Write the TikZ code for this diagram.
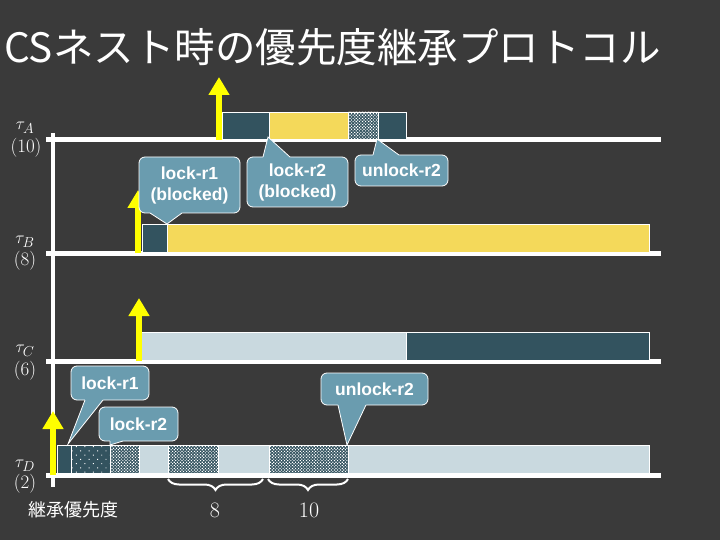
\documentclass[tikz,border=0pt]{standalone}
\usepackage{fontspec}
\newfontfamily\lib{Liberation Sans}
\newfontfamily\jp{Noto Sans CJK JP}
\usetikzlibrary{arrows.meta,patterns.meta,decorations.pathreplacing}
\definecolor{bgc}{HTML}{3A3A3A}
\definecolor{dkc}{HTML}{33535F}
\definecolor{ylc}{HTML}{F4D95A}
\definecolor{ltc}{HTML}{C9D9DF}
\definecolor{callc}{HTML}{6A9CAF}
\definecolor{arrc}{HTML}{FFFF00}
\newcommand\mkptr[5]{%
  \fill[callc] (#1,#3+#4) -- (#1,#3) -- (#5) -- (#2,#3) -- (#2,#3+#4) -- cycle;
  \draw[calledge] (#1,#3) -- (#5) -- (#2,#3);}
\begin{document}
\begin{tikzpicture}[x=1pt,y=-1pt,
  seg/.style={draw=white, line width=0.6pt},
  dk/.style={seg, fill=dkc},
  yl/.style={seg, fill=ylc},
  lt/.style={seg, fill=ltc},
  chk/.style={seg, fill=dkc, postaction={pattern={Dots[distance=2.2pt,radius=0.8pt,angle=45]}, pattern color=white}},
  spd/.style={seg, fill=dkc, postaction={pattern={Dots[distance=6pt,radius=0.6pt,angle=45]}, pattern color=white}},
  tline/.style={white, line width=5pt},
  ar/.style={draw=arrc, line width=6.5pt, -{Triangle[width=20pt,length=18pt]}},
  callbox/.style={fill=callc, draw=white, line width=0.8pt, rounded corners=6pt, text=white,
    font=\lib\bfseries\fontsize{17.5}{21}\selectfont, align=center, inner sep=0pt},
  calledge/.style={draw=white, line width=0.8pt},
  tlab/.style={text=white, font=\fontsize{19}{19}\selectfont, inner sep=0pt},
  brc/.style={draw=white, line width=2pt, decorate, decoration={brace, amplitude=11pt, mirror}},
  numlab/.style={text=white, font=\fontsize{22}{22}\selectfont, inner sep=0pt},
]
\fill[bgc] (0,0) rectangle (720,540);
\useasboundingbox (0,0) rectangle (720,540);

% title
\node[anchor=west, inner sep=0pt, text=white, font=\jp\fontsize{40.5}{40.5}\selectfont] (title) at (4,47) {CSネスト時の優先度継承プロトコル};

% time lines
\foreach \yy in {140,253,361,475} \draw[tline] (46,\yy) -- (661,\yy);
\draw[white, line width=4pt] (53,133) -- (53,487);

% task labels
\node[tlab] (tA) at (25,128) {$\tau_A$};
\node[tlab] (pA) at (26,148) {(10)};
\node[tlab] (tB) at (25,242) {$\tau_B$};
\node[tlab] (pB) at (25,261) {(8)};
\node[tlab] (tC) at (25,351) {$\tau_C$};
\node[tlab] (pC) at (25,371) {(6)};
\node[tlab] (tD) at (25,466) {$\tau_D$};
\node[tlab] (pD) at (25,484) {(2)};

% tau A
\draw[dk] (222,112) rectangle (269,139);
\draw[yl] (269,112) rectangle (348,139);
\draw[chk] (348,112) rectangle (378,139);
\draw[dk] (378,112) rectangle (406,139);
% tau B
\draw[dk] (142,224) rectangle (167,252);
\draw[yl] (167,224) rectangle (649,252);
% tau C
\draw[lt] (139,332) rectangle (406,360);
\draw[dk] (406,332) rectangle (649,360);
% tau D
\draw[dk] (57,445) rectangle (71,473);
\draw[spd] (71,445) rectangle (110,473);
\draw[chk] (110,445) rectangle (139,473);
\draw[lt] (139,445) rectangle (168,473);
\draw[chk] (168,445) rectangle (218,473);
\draw[lt] (218,445) rectangle (269,473);
\draw[chk] (269,445) rectangle (348,473);
\draw[lt] (348,445) rectangle (649,473);

% release arrows
\coordinate (aA0) at (219,140); \coordinate (aA1) at (219,77);
\coordinate (aB0) at (138,253); \coordinate (aB1) at (138,190);
\coordinate (aC0) at (139,361); \coordinate (aC1) at (139,298);
\coordinate (aD0) at (53,475);  \coordinate (aD1) at (53,411);
\draw[ar] (aA0) -- (aA1);
\draw[ar] (aB0) -- (aB1);
\draw[ar] (aC0) -- (aC1);
\draw[ar] (aD0) -- (aD1);

% callouts
\node[callbox, minimum width=101pt, minimum height=56pt] (c1) at (189.5,185) {lock-r1\\(blocked)};
\coordinate (c1t) at (167,224);
\mkptr{150}{182}{213}{-1.5}{c1t}

\node[callbox, minimum width=101pt, minimum height=50pt] (c2) at (297.5,182) {lock-r2\\(blocked)};
\coordinate (c2t) at (268,137);
\mkptr{263}{290}{157}{1.5}{c2t}

\node[callbox, minimum width=93pt, minimum height=31pt] (c3) at (401.5,170.5) {unlock-r2};
\coordinate (c3t) at (377,139);
\mkptr{373}{399}{155}{1.5}{c3t}

\node[callbox, minimum width=78pt, minimum height=34pt] (c4) at (110,383) {lock-r1};
\coordinate (c4t) at (68,444);
\mkptr{85}{103}{400}{-1.5}{c4t}

\node[callbox, minimum width=79pt, minimum height=34pt] (c5) at (138.5,424) {lock-r2};
\coordinate (c5t) at (110,445);
\mkptr{110}{123}{441}{-1.5}{c5t}

\node[callbox, minimum width=107pt, minimum height=32pt] (c6) at (374.5,389) {unlock-r2};
\coordinate (c6t) at (347,445);
\mkptr{338}{366}{405}{-1.5}{c6t}

% braces
\coordinate (b1a) at (168,479); \coordinate (b1b) at (263,479);
\coordinate (b2a) at (268,479); \coordinate (b2b) at (348,479);
\draw[brc] (b1a) -- (b1b);
\draw[brc] (b2a) -- (b2b);
\node[numlab] (n8) at (215,510) {8};
\node[numlab] (n10) at (309,510) {10};
\node[text=white, font=\jp\fontsize{18}{18}\selectfont, inner sep=0pt] (inh) at (73,510) {継承優先度};
\end{tikzpicture}
\end{document}
